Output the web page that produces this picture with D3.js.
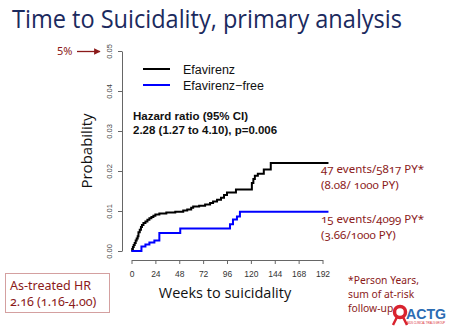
<!DOCTYPE html>
<html>
<head>
<meta charset="utf-8">
<script src="https://cdn.jsdelivr.net/npm/d3@7"></script>
<style>
  html, body { margin: 0; padding: 0; background: #fff; }
  svg { display: block; }
</style>
</head>
<body>
<svg id="chart" width="450" height="330"></svg>
<script>
// Cumulative probability of suicidality by week (Kaplan–Meier style steps)
const efavirenzWeeks = [0, 0.7, 1.4, 2.2, 3.2, 4.2, 5.2, 6.2, 7.0, 8.3, 9.5, 10.5, 12, 14, 16, 18, 20, 22, 24, 28, 35, 44, 52, 56, 60, 62, 68, 74, 79, 82, 86, 90, 93, 96, 105, 121, 122.5, 124, 127, 133, 140, 198];
const efavirenzProb  = [0, 0.0005, 0.001, 0.0015, 0.002, 0.0026, 0.0031, 0.0037, 0.0047, 0.0053, 0.006, 0.0065, 0.007, 0.0074, 0.0078, 0.0082, 0.0085, 0.0088, 0.0091, 0.0094, 0.0096, 0.0098, 0.0101, 0.0104, 0.0108, 0.0111, 0.0113, 0.0116, 0.0120, 0.0124, 0.0128, 0.0133, 0.0140, 0.0146, 0.0154, 0.0170, 0.0180, 0.0188, 0.0193, 0.0204, 0.0220, 0.0220];

const freeWeeks = [0, 10, 14, 18, 23, 28, 49, 99, 102, 106, 109, 198];
const freeProb  = [0, 0.0011, 0.0016, 0.0021, 0.0026, 0.0045, 0.0056, 0.0067, 0.0079, 0.0086, 0.0098, 0.0098];

const xTicks = [0, 24, 48, 72, 96, 120, 144, 168, 192];
const yTicks = [0, 0.01, 0.02, 0.03, 0.04, 0.05];

const seriesNames = ["Efavirenz", "Efavirenz\u2212free"];
const seriesColors = ["#000000", "#0000ff"];

const darkRed = "#8b1a1a";
const annoFont = "'Noto Sans', 'Open Sans', sans-serif";

const svg = d3.select("#chart");

// Title
svg.append("text")
  .attr("x", 12).attr("y", 27.5)
  .attr("textLength", 390).attr("lengthAdjust", "spacingAndGlyphs")
  .style("font-family", "'Open Sans', sans-serif")
  .style("font-size", "25.5px")
  .style("fill", "#1b2a5e")
  .text("Time to Suicidality, primary analysis");

// Scales
const x = d3.scaleLinear().domain([0, 192]).range([131.5, 322.5]);
const y = d3.scaleLinear().domain([0, 0.05]).range([251, 51]);

// X axis
const xAxis = svg.append("g")
  .attr("transform", "translate(0,260)")
  .call(d3.axisBottom(x).tickValues(xTicks).tickSize(4).tickSizeOuter(0).tickPadding(7));
xAxis.select(".domain").attr("stroke", "#666");
xAxis.selectAll(".tick line").attr("stroke", "#666");
xAxis.selectAll(".tick text")
  .style("font-family", "'Liberation Sans', Arial, sans-serif")
  .style("font-size", "8.5px")
  .style("fill", "#333");

// Y axis
const yAxis = svg.append("g")
  .attr("transform", "translate(122,0)")
  .call(d3.axisLeft(y).tickValues(yTicks).tickFormat(d3.format(".2f")).tickSize(4).tickSizeOuter(0));
yAxis.select(".domain").attr("stroke", "#666");
yAxis.selectAll(".tick line").attr("stroke", "#666");
yAxis.selectAll(".tick text")
  .attr("x", null).attr("dy", null)
  .attr("transform", "translate(-10,0) rotate(-90)")
  .attr("text-anchor", "middle")
  .style("font-family", "'Liberation Sans', Arial, sans-serif")
  .style("font-size", "7.5px")
  .style("fill", "#444");

// Axis titles
svg.append("text")
  .attr("transform", "translate(92,151) rotate(-90)")
  .attr("text-anchor", "middle")
  .style("font-family", "'Open Sans', sans-serif")
  .style("font-size", "15px")
  .style("fill", "#111")
  .text("Probability");

svg.append("text")
  .attr("x", 225).attr("y", 298)
  .attr("text-anchor", "middle")
  .style("font-family", "'Open Sans', sans-serif")
  .style("font-size", "14.5px")
  .style("fill", "#111")
  .text("Weeks to suicidality");

// Step curves
const line = d3.line()
  .x(d => x(d[0]))
  .y(d => y(d[1]))
  .curve(d3.curveStepAfter);

const series = [
  d3.zip(efavirenzWeeks, efavirenzProb),
  d3.zip(freeWeeks, freeProb)
];

svg.selectAll("path.km")
  .data(series)
  .enter().append("path")
  .attr("class", "km")
  .attr("d", line)
  .attr("fill", "none")
  .attr("stroke", (d, i) => seriesColors[i])
  .attr("stroke-width", 2);

// Legend
const legend = svg.append("g");
seriesNames.forEach((name, i) => {
  const ly = 69 + i * 16;
  legend.append("line")
    .attr("x1", 143).attr("x2", 170).attr("y1", ly).attr("y2", ly)
    .attr("stroke", seriesColors[i]).attr("stroke-width", 2);
  legend.append("text")
    .attr("x", 183).attr("y", ly + 4.5)
    .style("font-family", "'Liberation Sans', Arial, sans-serif")
    .style("font-size", "12.5px")
    .style("fill", "#111")
    .text(name);
});

// Hazard ratio
const hr = svg.append("g")
  .style("font-family", "'Liberation Sans', Arial, sans-serif")
  .style("font-size", "11.5px")
  .style("font-weight", "bold")
  .style("fill", "#111");
hr.append("text").attr("x", 133).attr("y", 120).text("Hazard ratio (95% CI)");
hr.append("text").attr("x", 133).attr("y", 134).text("2.28 (1.27 to 4.10), p=0.006");

// 5% marker
svg.append("defs").append("marker")
  .attr("id", "arrowhead")
  .attr("viewBox", "0 0 10 10")
  .attr("refX", 9).attr("refY", 5)
  .attr("markerWidth", 5).attr("markerHeight", 5)
  .attr("orient", "auto")
  .append("path").attr("d", "M0,0 L10,5 L0,10 z").attr("fill", darkRed);
svg.append("text")
  .attr("x", 57).attr("y", 55)
  .style("font-family", annoFont)
  .style("font-size", "11px")
  .style("fill", darkRed)
  .text("5%");
svg.append("line")
  .attr("x1", 77).attr("x2", 100).attr("y1", 51.5).attr("y2", 51.5)
  .attr("stroke", darkRed).attr("stroke-width", 1.3)
  .attr("marker-end", "url(#arrowhead)");

// Event-rate annotations
const anno = svg.append("g")
  .style("font-family", annoFont)
  .style("font-size", "11.5px")
  .style("fill", darkRed)
  .style("font-variant-numeric", "oldstyle-nums");
anno.append("text").attr("x", 321).attr("y", 173).text("47 events/5817 PY*");
anno.append("text").attr("x", 321).attr("y", 189).text("(8.08/ 1000 PY)");
anno.append("text").attr("x", 321).attr("y", 223).text("15 events/4099 PY*");
anno.append("text").attr("x", 321).attr("y", 239).text("(3.66/1000 PY)");

const note = svg.append("g")
  .style("font-family", annoFont)
  .style("font-size", "10.3px")
  .style("fill", darkRed);
note.append("text").attr("x", 348).attr("y", 284).text("*Person Years,");
note.append("text").attr("x", 348).attr("y", 298).text("sum of at-risk");
note.append("text").attr("x", 348).attr("y", 312).text("follow-up");

// As-treated box
svg.append("rect")
  .attr("x", 5.5).attr("y", 273.5).attr("width", 104).attr("height", 39)
  .attr("fill", "none").attr("stroke", "#d4a0a0").attr("stroke-width", 1);
const box = svg.append("g")
  .style("font-family", annoFont)
  .style("font-size", "12.5px")
  .style("fill", darkRed)
  .style("font-variant-numeric", "oldstyle-nums");
box.append("text").attr("x", 10).attr("y", 290).text("As-treated HR");
box.append("text").attr("x", 10).attr("y", 306).text("2.16 (1.16-4.00)");

// ACTG logo
const logo = svg.append("g");
logo.append("circle").attr("cx", 400).attr("cy", 312).attr("r", 5.5)
  .attr("fill", "none").attr("stroke", "#d9232e").attr("stroke-width", 3.5);
logo.append("path").attr("d", "M397,317 L393,325 M403,317 L407,325")
  .attr("stroke", "#d9232e").attr("stroke-width", 2.5).attr("fill", "none");
logo.append("text")
  .attr("x", 406).attr("y", 319)
  .attr("textLength", 40).attr("lengthAdjust", "spacingAndGlyphs")
  .style("font-family", "'Liberation Sans', Arial, sans-serif")
  .style("font-size", "15px")
  .style("font-weight", "bold")
  .style("fill", "#2b6cb3")
  .text("ACTG");
logo.append("text")
  .attr("x", 407).attr("y", 324)
  .attr("textLength", 38).attr("lengthAdjust", "spacingAndGlyphs")
  .style("font-family", "'Liberation Sans', Arial, sans-serif")
  .style("font-size", "3px")
  .style("fill", "#d9232e")
  .text("AIDS CLINICAL TRIALS GROUP");
</script>
</body>
</html>
